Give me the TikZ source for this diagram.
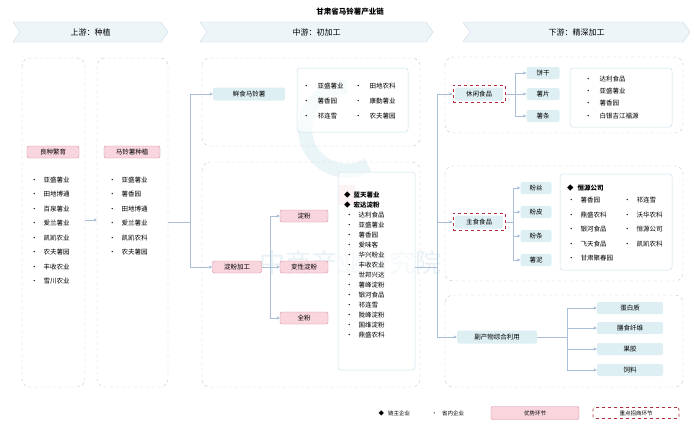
\documentclass[tikz,border=0pt]{standalone}
\usepackage{fontspec}
\setmainfont{Noto Sans CJK SC}
\usetikzlibrary{arrows.meta,shapes.geometric,fit}
\definecolor{pk}{HTML}{F9D6DD}
\definecolor{pkb}{HTML}{D98C9A}
\definecolor{lb}{HTML}{DDEFF3}
\definecolor{ln}{HTML}{A9BFD8}
\definecolor{gb}{HTML}{C8C8C8}
\definecolor{rd}{HTML}{B03040}
\definecolor{hd}{HTML}{EEF5F9}
\begin{document}
\begin{tikzpicture}[x=1pt,y=-1pt,font=\fontsize{6.5}{7}\selectfont,
 grp/.style={draw=gb,dashed,rounded corners=8pt,line width=0.4pt},
 lst/.style={draw=lb!70!ln,fill=white,fill opacity=0.6,text opacity=1,rounded corners=3pt,line width=0.5pt},
 pn/.style={draw=pkb,fill=pk,rounded corners=2pt,minimum height=12pt,inner sep=1pt},
 bn/.style={fill=lb,rounded corners=2pt,minimum height=13pt,inner sep=1pt},
 key/.style={draw=rd,dashed,line width=0.6pt,inner sep=2pt},
 con/.style={draw=ln,line width=0.7pt},
 arr/.style={con,-{Triangle[length=3pt,width=3pt]}},
 bul/.style={anchor=west,inner sep=0pt},
 bbul/.style={bul,font=\fontsize{6.5}{7}\selectfont\bfseries},
 hdr/.style={fill=hd,draw=ln!60,line width=0.4pt}]
\useasboundingbox (0,0) rectangle (700,434);
\fill[white] (0,0) rectangle (700,434);
% watermark
\draw[lb,line width=14pt,opacity=0.6] (368,165) arc (60:270:42);
\fill[pk,opacity=0.7] (338,185) rectangle (355,205);
\node[text=lb!80!ln,opacity=0.5,font=\fontsize{26}{28}\selectfont] (wm) at (350,263) {中商产业研究院};
\node[font=\fontsize{7.5}{8}\selectfont\bfseries] (title) at (350,12) {甘肃省马铃薯产业链};
% headers
\foreach \a/\b/\t/\n in {13/168/上游：种植/h1,200/433/中游：初加工/h2,463/690/下游：精深加工/h3}{
 \draw[hdr] (\a,22) -- (\b-7,22) -- (\b,32) -- (\b-7,42) -- (\a,42) -- (\a+7,32) -- cycle;
 \node[font=\fontsize{8}{9}\selectfont] (\n) at ({(\a+\b)/2},32) {\t};}
% left columns
\draw[grp] (22,58) rectangle (85,387);
\draw[grp] (97,58) rectangle (168,387);
\node[pn,minimum width=52pt] (lz) at (53,152) {良种繁育};
\node[pn,minimum width=56pt] (zz) at (132,152) {马铃薯种植};
\foreach \t [count=\i] in {亚盛薯业,田地博通,百泉薯业,爱兰薯业,凯凯农业,农夫薯园,丰收农业,雪川农业}
 \node[bul] (l\i) at (31,{165.5+14.5*\i}) {•\hspace{6pt}\t};
\foreach \t [count=\i] in {亚盛薯业,薯香园,田地博通,爱兰薯业,凯凯农科,农夫薯园}
 \node[bul] (m\i) at (109,{165.5+14.5*\i}) {•\hspace{6pt}\t};
\coordinate (c1) at (85,220); \coordinate (c2) at (97,220);
\draw[arr] (c1) -- (c2);
% middle
\draw[grp] (202,58) rectangle (420,146);
\draw[grp] (202,162) rectangle (420,387);
\node[bn,minimum width=72pt] (xs) at (249,94) {鲜食马铃薯};
\node[pn,minimum width=49pt] (df) at (237,267) {淀粉加工};
\coordinate (c3) at (168,222); \coordinate (c4) at (190,222);
\draw[con] (c3) -- (c4);
\draw[arr] (190,222) |- (xs.west);
\draw[arr] (190,222) |- (df.west);
\draw[lst] (297,68) rectangle (408,132);
\foreach \t [count=\i] in {亚盛薯业,薯香园,祁连雪} \node[bul] (xa\i) at (303,{71+15*\i}) {•\hspace{8pt}\t};
\foreach \t [count=\i] in {田地农科,康勤薯业,农夫薯园} \node[bul] (xb\i) at (355,{71+15*\i}) {•\hspace{8pt}\t};
\node[pn,minimum width=48pt] (d1) at (304,216) {淀粉};
\node[pn,minimum width=48pt] (d2) at (304,267) {变性淀粉};
\node[pn,minimum width=48pt] (d3) at (304,318) {全粉};
\draw[con] (df.east) -- (270,267);
\foreach \n in {d1,d2,d3} \draw[arr] (270,267) |- (\n.west);
\draw[lst] (338,172) rectangle (415,370);
\node[bbul] (dk1) at (344,195) {◆\hspace{3pt}蓝天薯业};
\node[bbul] (dk2) at (344,205) {◆\hspace{3pt}宏达淀粉};
\foreach \t [count=\i] in {达利食品,亚盛薯业,薯香园,爱味客,华兴粉业,丰收农业,世邦兴达,薯峰淀粉,银河食品,祁连雪,陇峰淀粉,国维淀粉,鼎盛农科}
 \node[bul] (ds\i) at (346,{205+10*\i}) {•\hspace{6pt}\t};
% right
\draw[grp] (445,57) rectangle (683,133);
\draw[grp] (445,166) rectangle (683,281);
\draw[grp] (445,295) rectangle (683,387);
\node[bn,minimum width=48pt,minimum height=13pt] (xx) at (479,94) {休闲食品};
\node[key,fit=(xx)] (xxk) {};
\node[bn,minimum width=48pt,minimum height=13pt] (zs) at (479,222) {主食食品};
\node[key,fit=(zs)] (zsk) {};
\node[bn,minimum width=80pt] (fc) at (497,337) {副产物综合利用};
\coordinate (c5) at (415,267); \coordinate (c6) at (437,267);
\draw[con] (c5) -- (c6);
\draw[con] (437,94) -- (437,337);
\draw[arr] (437,94) -- (xxk.west);
\draw[arr] (437,222) -- (zsk.west);
\draw[arr] (437,337) -- (fc.west);
\foreach \t/\y/\n in {饼干/73/x1,薯片/94/x2,薯条/116/x3}
 \node[bn,minimum width=33pt,minimum height=12pt] (\n) at (543,\y) {\t};
\draw[con] (xxk.east) -- (515,94);
\foreach \n in {x1,x2,x3} \draw[arr] (515,94) |- (\n.west);
\draw[lst] (570,68) rectangle (672,127);
\foreach \t [count=\i] in {达利食品,亚盛薯业,薯香园,白银吉江福源}
 \node[bul] (xl\i) at (585,{66.5+12.3*\i}) {•\hspace{8pt}\t};
\foreach \t/\y/\n in {粉丝/188/z1,粉皮/212/z2,粉条/236/z3,薯泥/260/z4}
 \node[bn,minimum width=31pt,minimum height=12pt] (\n) at (536,\y) {\t};
\draw[con] (zsk.east) -- (513,222);
\draw[con] (513,188) -- (513,260);
\foreach \n in {z1,z2,z3,z4} \draw[arr] (513,0 |- \n.west) -- (\n.west);
\draw[lst] (560,174) rectangle (672,270);
\node[bbul] (zk) at (567,188) {◆\hspace{4pt}恒源公司};
\foreach \t [count=\i] in {薯香园,鼎盛农科,银河食品,飞天食品,甘肃聚春园}
 \node[bul] (za\i) at (568,{186+14.4*\i}) {•\hspace{6pt}\t};
\foreach \t [count=\i] in {祁连雪,沃华农科,恒源公司,凯凯农科}
 \node[bul] (zb\i) at (624,{186+14.4*\i}) {•\hspace{6pt}\t};
\foreach \t/\y/\n in {蛋白质/308/f1,膳食纤维/328/f2,果胶/349/f3,饲料/370/f4}
 \node[bn,minimum width=66pt,minimum height=12pt] (\n) at (630,\y) {\t};
\draw[con] (fc.east) -- (567,337);
\draw[con] (567,308) -- (567,370);
\foreach \n in {f1,f2,f3,f4} \draw[arr] (567,0 |- \n.west) -- (\n.west);
% legend
\node[anchor=west,font=\fontsize{5.5}{6}\selectfont] (lg1) at (375,413) {◆\hspace{4pt}链主企业};
\node[anchor=west,font=\fontsize{5.5}{6}\selectfont] (lg2) at (428,413) {•\hspace{5pt}省内企业};
\node[pn,minimum width=88pt,minimum height=13pt,font=\fontsize{5.5}{6}\selectfont] (lg3) at (535,413) {优势环节};
\node[key,minimum width=86pt,minimum height=11pt,font=\fontsize{5.5}{6}\selectfont,rounded corners=2pt] (lg4) at (636,413) {重点招商环节};
\end{tikzpicture}
\end{document}
